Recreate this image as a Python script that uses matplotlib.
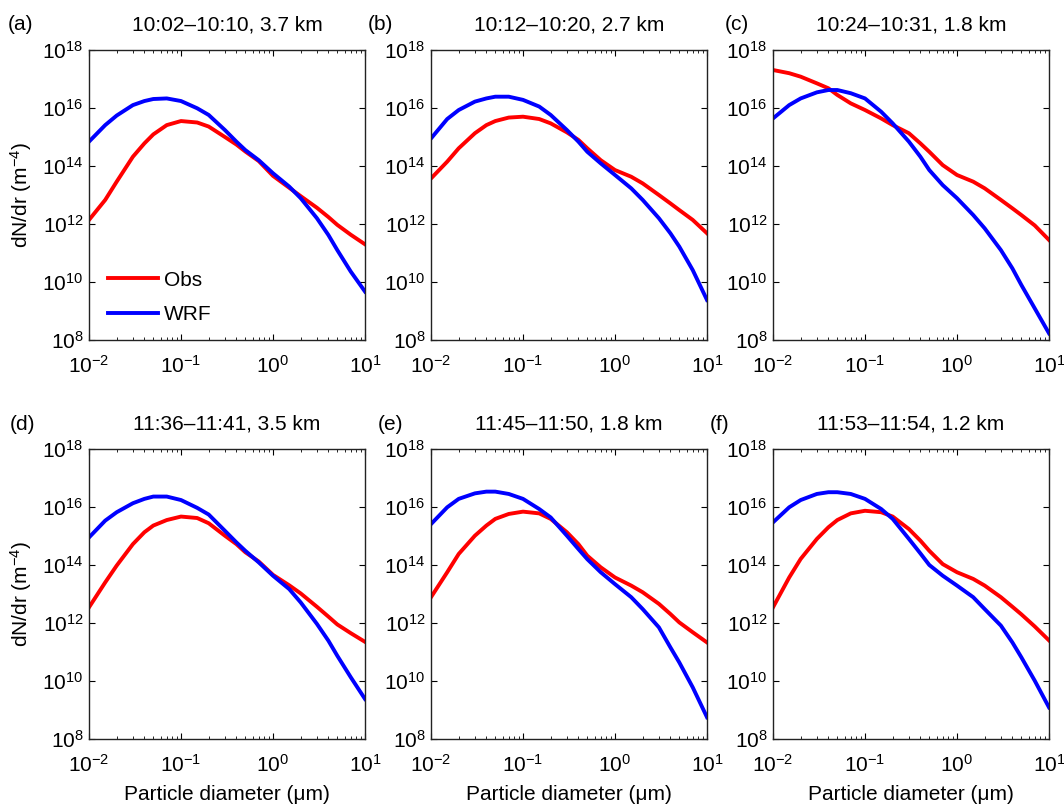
import numpy as np
import matplotlib
matplotlib.use("Agg")
import matplotlib.pyplot as plt
from matplotlib.ticker import LogLocator, NullLocator

plt.rcParams['font.family'] = ['Liberation Sans', 'DejaVu Sans']
plt.rcParams['mathtext.default'] = 'regular'

# particle diameter (um) where values were read
diam = [0.01, 0.015, 0.02, 0.03, 0.04, 0.05, 0.07, 0.1, 0.15, 0.2, 0.3,
        0.4, 0.5, 0.7, 1, 1.5, 2, 3, 4, 5, 7, 10]

# log10(dN/dr)
obs_a = [12.14, 12.83, 13.46, 14.32, 14.78, 15.09, 15.41, 15.55, 15.5, 15.36, 15.0,
         14.74, 14.5, 14.17, 13.66, 13.25, 12.96, 12.56, 12.24, 11.97, 11.63, 11.3]
wrf_a = [14.84, 15.41, 15.74, 16.1, 16.24, 16.31, 16.33, 16.24, 15.99, 15.76, 15.24,
         14.84, 14.55, 14.2, 13.75, 13.29, 12.89, 12.2, 11.62, 11.1, 10.36, 9.67]
obs_b = [13.57, 14.15, 14.61, 15.13, 15.41, 15.55, 15.67, 15.7, 15.62, 15.47, 15.16,
         14.9, 14.61, 14.2, 13.86, 13.63, 13.4, 13.0, 12.71, 12.48, 12.14, 11.68]
wrf_b = [14.95, 15.62, 15.93, 16.22, 16.33, 16.39, 16.39, 16.28, 16.05, 15.76, 15.24,
         14.84, 14.49, 14.09, 13.69, 13.23, 12.83, 12.2, 11.68, 11.22, 10.41, 9.38]
obs_c = [17.31, 17.2, 17.08, 16.85, 16.68, 16.45, 16.16, 15.93, 15.64, 15.41, 15.13,
         14.78, 14.49, 14.03, 13.69, 13.46, 13.23, 12.83, 12.54, 12.31, 11.95, 11.45]
wrf_c = [15.64, 16.1, 16.33, 16.54, 16.62, 16.62, 16.51, 16.33, 15.87, 15.47, 14.84,
         14.32, 13.86, 13.34, 12.89, 12.31, 11.85, 11.1, 10.47, 9.9, 9.09, 8.23]
obs_d = [12.54, 13.4, 13.98, 14.72, 15.13, 15.36, 15.55, 15.67, 15.62, 15.44, 15.01,
         14.72, 14.44, 14.12, 13.66, 13.3, 13.02, 12.56, 12.22, 11.95, 11.65, 11.35]
wrf_d = [14.95, 15.53, 15.82, 16.13, 16.28, 16.36, 16.36, 16.24, 15.97, 15.74, 15.18,
         14.78, 14.49, 14.09, 13.63, 13.17, 12.71, 11.97, 11.39, 10.87, 10.13, 9.38]
obs_e = [12.89, 13.75, 14.38, 15.01, 15.36, 15.59, 15.76, 15.84, 15.78, 15.59, 15.13,
         14.72, 14.32, 13.92, 13.57, 13.29, 13.06, 12.66, 12.31, 12.02, 11.68, 11.33]
wrf_e = [15.41, 15.99, 16.28, 16.47, 16.53, 16.53, 16.45, 16.28, 15.93, 15.64, 15.01,
         14.55, 14.2, 13.75, 13.34, 12.89, 12.48, 11.85, 11.16, 10.64, 9.78, 8.75]
obs_f = [12.54, 13.57, 14.21, 14.9, 15.3, 15.55, 15.78, 15.87, 15.82, 15.67, 15.24,
         14.84, 14.49, 14.03, 13.75, 13.52, 13.29, 12.89, 12.56, 12.3, 11.88, 11.4]
wrf_f = [15.47, 15.99, 16.24, 16.45, 16.51, 16.51, 16.45, 16.28, 15.93, 15.59, 14.9,
         14.4, 14.0, 13.63, 13.29, 12.89, 12.48, 11.91, 11.33, 10.82, 10.01, 9.09]

titles = ["10:02–10:10, 3.7 km", "10:12–10:20, 2.7 km", "10:24–10:31, 1.8 km",
          "11:36–11:41, 3.5 km", "11:45–11:50, 1.8 km", "11:53–11:54, 1.2 km"]
letters = ["(a)", "(b)", "(c)", "(d)", "(e)", "(f)"]
obs_all = [obs_a, obs_b, obs_c, obs_d, obs_e, obs_f]
wrf_all = [wrf_a, wrf_b, wrf_c, wrf_d, wrf_e, wrf_f]

W, H = 1064, 807
fig = plt.figure(figsize=(W / 100, H / 100), dpi=100)

lefts = [89, 431, 773]
tops = [50, 449]
aw, ah = 276, 290
letter_pos = [(8, 25), (368, 25), (725, 25), (10, 425), (378, 425), (710, 425)]

fs = 15
for i in range(6):
    r, c = divmod(i, 3)
    ax = fig.add_axes([lefts[c] / W, 1 - (tops[r] + ah) / H, aw / W, ah / H])
    ax.plot(diam, 10.0 ** np.array(obs_all[i]), color='#ff0000', lw=2.8, label='Obs')
    ax.plot(diam, 10.0 ** np.array(wrf_all[i]), color='#0000ff', lw=2.8, label='WRF')
    ax.set_xscale('log')
    ax.set_yscale('log')
    ax.set_xlim(1e-2, 1e1)
    ax.set_ylim(1e8, 1e18)
    ax.set_yticks([1e8, 1e10, 1e12, 1e14, 1e16, 1e18])
    ax.yaxis.set_minor_locator(NullLocator())
    ax.xaxis.set_major_locator(LogLocator(base=10, numticks=10))
    ax.xaxis.set_minor_locator(LogLocator(base=10, subs=np.arange(2, 10), numticks=20))
    ax.tick_params(which='both', direction='in', top=True, right=True, labelsize=fs)
    ax.tick_params(which='major', length=4, width=0.8)
    ax.tick_params(which='minor', length=2, width=0.6)
    ax.tick_params(axis='x', pad=11)
    ax.tick_params(axis='y', pad=4)
    for s in ax.spines.values():
        s.set_linewidth(1.0)
        s.set_color('#222222')
    ax.text(0.5, 1.085, titles[i], transform=ax.transAxes, ha='center', va='center', fontsize=fs)
    fig.text(letter_pos[i][0] / W, 1 - letter_pos[i][1] / H, letters[i], ha='left', va='center', fontsize=fs)
    if c == 0:
        ax.set_ylabel('dN/dr (m$^{-4}$)', fontsize=fs)
        ax.yaxis.set_label_coords(-0.20, 0.5)
    if r == 1:
        ax.set_xlabel('Particle diameter (μm)', fontsize=fs)
        ax.xaxis.set_label_coords(0.5, -0.16)
    if i == 0:
        ax.legend(loc='lower left', bbox_to_anchor=(0.0, -0.01), frameon=False,
                  fontsize=fs, handlelength=2.4, labelspacing=0.75, handletextpad=0.3)

fig.savefig('out.png', dpi=100)
